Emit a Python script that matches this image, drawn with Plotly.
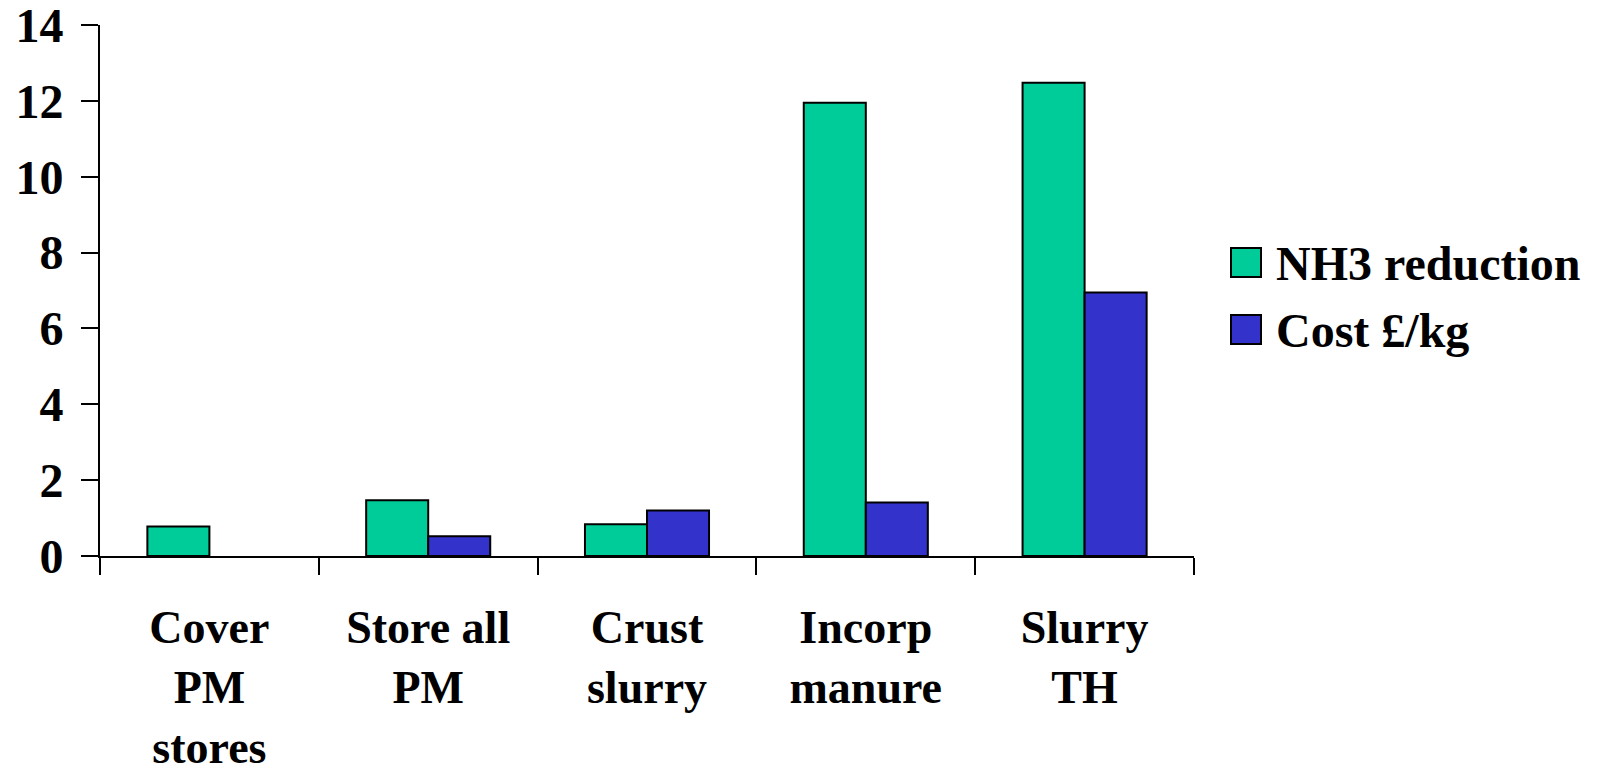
import plotly.graph_objects as go

# Data
categories = ["Cover<br>PM<br>stores", "Store all<br>PM", "Crust<br>slurry",
              "Incorp<br>manure", "Slurry<br>TH"]
nh3_reduction = [0.78, 1.47, 0.84, 11.95, 12.48]
cost_per_kg = [None, 0.52, 1.20, 1.41, 6.95]
series_names = ["NH3 reduction", "Cost £/kg"]
series_colors = ["#00CC99", "#3333CC"]
y_tick_values = [0, 2, 4, 6, 8, 10, 12, 14]

FAMILY = "Liberation Serif, Times New Roman, serif"

def bold_font(size):
    return dict(family=FAMILY, size=size, color="black", weight="bold")

W, H = 1598, 772
M_L, M_R, M_T, M_B = 100, 404, 25, 216
plot_w = W - M_L - M_R
plot_h = H - M_T - M_B

fig = go.Figure()
for name, values, color in zip(series_names, [nh3_reduction, cost_per_kg], series_colors):
    fig.add_trace(go.Bar(
        x=categories, y=values, name=name,
        marker=dict(color=color, line=dict(color="black", width=2)),
        showlegend=False,
    ))

# Legend drawn as boxes + labels to the right of the plot
def px_to_paper_x(px):
    return (px - M_L) / plot_w

def px_to_paper_y(py):
    return (H - M_B - py) / plot_h

legend_rows_top = [248, 315]
box_size = 30
for name, color, top in zip(series_names, series_colors, legend_rows_top):
    fig.add_shape(
        type="rect", xref="paper", yref="paper",
        x0=px_to_paper_x(1231), x1=px_to_paper_x(1231 + box_size),
        y0=px_to_paper_y(top + box_size - 1), y1=px_to_paper_y(top),
        fillcolor=color, line=dict(color="black", width=2),
    )
    fig.add_annotation(
        xref="paper", yref="paper",
        x=px_to_paper_x(1274), y=px_to_paper_y(top + box_size / 2),
        xanchor="left", yanchor="middle", showarrow=False,
        text=name, font=bold_font(48),
    )

fig.update_layout(
    width=W, height=H,
    margin=dict(l=M_L, r=M_R, t=M_T, b=M_B, autoexpand=False),
    paper_bgcolor="white", plot_bgcolor="white",
    barmode="group", bargap=0.433, bargroupgap=0,
    font=bold_font(48),
    showlegend=False,
)
fig.update_xaxes(
    type="category", showgrid=False, zeroline=False,
    showline=True, linecolor="black", linewidth=2,
    ticks="outside", tickson="boundaries", ticklen=17, tickwidth=2, tickcolor="black",
    tickfont=bold_font(46), ticklabelstandoff=30, tickangle=0,
    ticklabeloverflow="allow",
)
fig.update_yaxes(
    range=[0, 14], tickvals=y_tick_values, showgrid=False, zeroline=False,
    showline=True, linecolor="black", linewidth=2,
    ticks="outside", ticklen=17, tickwidth=2, tickcolor="black",
    tickfont=bold_font(48), ticklabelstandoff=8,
    ticklabeloverflow="allow",
)

fig.write_html("out.html")
